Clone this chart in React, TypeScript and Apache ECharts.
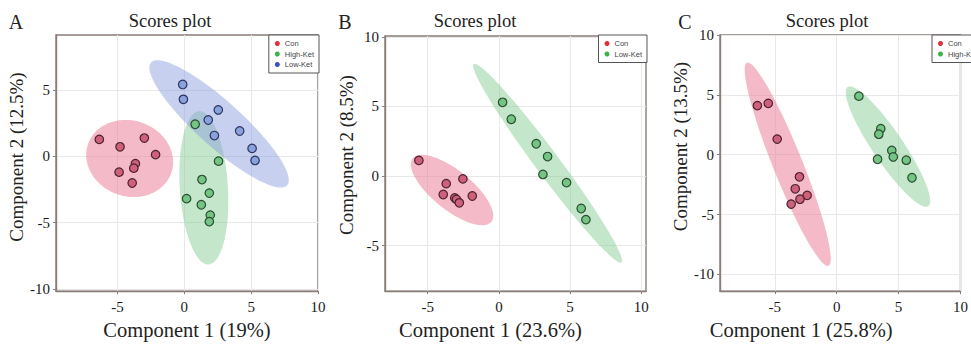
import { useEffect, useRef } from 'react';
import * as echarts from 'echarts';

// ---------- data ----------
// Panel A
const conA = [[-6.36, 1.27], [-4.81, 0.71], [-2.99, 1.37], [-2.15, 0.12], [-3.66, -0.56], [-3.78, -0.9], [-4.88, -1.2], [-3.9, -2.02]];
const highA = [[0.81, 2.41], [2.56, -0.37], [1.32, -1.76], [1.87, -2.78], [0.17, -3.2], [1.27, -3.66], [1.94, -4.44], [1.87, -4.93]];
const lowA = [[-0.12, 5.41], [-0.07, 4.29], [2.54, 3.49], [1.79, 2.73], [2.25, 1.56], [4.14, 1.9], [5.07, 0.59], [5.29, -0.32]];
// Panel B
const conB = [[-5.62, 1.12], [-3.7, -0.55], [-2.53, -0.21], [-3.91, -1.33], [-3.1, -1.58], [-2.98, -1.68], [-2.78, -1.93], [-1.87, -1.44]];
const lowB = [[0.26, 5.3], [0.87, 4.08], [2.62, 2.32], [3.42, 1.4], [3.09, 0.11], [4.75, -0.48], [5.78, -2.34], [6.11, -3.14]];
// Panel C
const conC = [[-6.41, 4.1], [-5.53, 4.29], [-4.81, 1.3], [-3.01, -1.85], [-3.35, -2.85], [-2.39, -3.4], [-2.97, -3.72], [-3.68, -4.13]];
const highC = [[1.79, 4.89], [3.56, 2.17], [3.4, 1.71], [3.3, -0.38], [4.45, 0.35], [4.57, -0.19], [5.62, -0.46], [6.08, -1.93]];

// confidence ellipses: [centerX, centerY, semiMajor, semiMinor, angleDeg]
const ellConA = [-4.09, -0.17, 3.3, 2.85, -20];
const ellHighA = [1.46, -2.38, 5.79, 1.8, 93.5];
const ellLowA = [2.6, 2.44, 6.88, 1.7, -42.3];
const ellConB = [-3.29, -1.01, 3.58, 1.4, -39.8];
const ellLowB = [3.42, 0.92, 8.82, 0.85, -54];
const ellConC = [-3.96, -0.8, 9.1, 1.2, -68.8];
const ellHighC = [4.14, 0.67, 5.95, 1.25, -56.9];

// tick labels
const xTicksA = [-5, 0, 5, 10];
const yTicksA = [-10, -5, 0, 5];
const xTicksB = [-5, 0, 5, 10];
const yTicksB = [-5, 0, 5, 10];
const xTicksC = [-5, 0, 5, 10];
const yTicksC = [-10, -5, 0, 5, 10];

const panelLetters = ['A', 'B', 'C'];
const titleText = 'Scores plot';
const xNames = ['Component 1 (19%)', 'Component 1 (23.6%)', 'Component 1 (25.8%)'];
const yNames = ['Component 2 (12.5%)', 'Component 2 (8.5%)', 'Component 2 (13.5%)'];

// ---------- styles ----------
const SERIF = '"Liberation Serif", "Times New Roman", serif';
const SANS = '"Liberation Sans", Arial, sans-serif';
const FRAME = '#8a7d77';
const RED = { fill: '#cf6079', border: '#4a2230', ell: 'rgba(236,118,146,0.5)', dot: '#e0303a' };
const GREEN = { fill: '#74c484', border: '#2a4c30', ell: 'rgba(130,205,145,0.47)', dot: '#3cb44a' };
const BLUE = { fill: '#8aa2dc', border: '#2a3460', ell: 'rgba(135,155,220,0.47)', dot: '#3a4fc0' };

function ellipseSeries(params: number[], idx: number, color: string) {
  return {
    type: 'custom',
    xAxisIndex: idx,
    yAxisIndex: idx,
    silent: true,
    clip: true,
    z: 1,
    data: [params],
    encode: { x: 0, y: 1 },
    renderItem: (_p: any, api: any) => {
      const cx = api.value(0);
      const cy = api.value(1);
      const a = api.value(2);
      const b = api.value(3);
      const ang = (api.value(4) * Math.PI) / 180;
      const pts: number[][] = [];
      for (let i = 0; i < 120; i++) {
        const t = (i / 120) * Math.PI * 2;
        const x = cx + a * Math.cos(t) * Math.cos(ang) - b * Math.sin(t) * Math.sin(ang);
        const y = cy + a * Math.cos(t) * Math.sin(ang) + b * Math.sin(t) * Math.cos(ang);
        pts.push(api.coord([x, y]));
      }
      return { type: 'polygon', shape: { points: pts }, style: { fill: color } };
    },
  };
}

function scatterSeries(name: string, data: number[][], idx: number, c: { fill: string; border: string }) {
  return {
    type: 'scatter',
    name,
    xAxisIndex: idx,
    yAxisIndex: idx,
    data,
    z: 3,
    symbol: 'circle',
    symbolSize: 8.5,
    itemStyle: { color: c.fill, borderColor: c.border, borderWidth: 1.2, opacity: 1 },
  };
}

function axis(
  gridIndex: number,
  min: number,
  max: number,
  ticks: number[],
  name: string,
  nameGap: number,
  fontSize: number,
  padding: number[],
  labelMargin: number
) {
  return {
    type: 'value',
    gridIndex,
    min,
    max,
    name,
    nameLocation: 'middle',
    nameGap,
    nameTextStyle: { fontFamily: SERIF, fontSize, color: '#222', padding },
    axisLine: { show: true, onZero: false, lineStyle: { color: FRAME, width: 1.4 } },
    axisTick: { show: true, length: 3, customValues: ticks, lineStyle: { color: FRAME, width: 1 } },
    axisLabel: { customValues: ticks, fontFamily: SERIF, fontSize: 15, color: '#1a1a1a', margin: labelMargin },
    splitLine: { show: true, lineStyle: { color: '#e8e8e8', width: 1 } },
  };
}

function legend(names: string[], colors: string[], pos: any) {
  return {
    ...pos,
    top: 35,
    orient: 'vertical',
    selectedMode: false,
    icon: 'circle',
    itemWidth: 5,
    itemHeight: 5,
    itemGap: 1.5,
    padding: [4, 5, 4, 6],
    backgroundColor: '#ffffff',
    borderColor: '#555555',
    borderWidth: 1,
    borderRadius: 0,
    textStyle: { fontFamily: SANS, fontSize: 7.5, color: '#444', lineHeight: 9 },
    data: names.map((n, i) => ({ name: n, itemStyle: { color: colors[i], borderWidth: 0 } })),
  };
}

export default function App() {
  const ref = useRef<HTMLDivElement>(null);

  useEffect(() => {
    if (!ref.current) return;
    const chart = echarts.init(ref.current, undefined, { renderer: 'svg' });

    const titleStyle = { font: `18.5px ${SERIF}`, fill: '#222', textAlign: 'center', textVerticalAlign: 'middle' };
    const letterStyle = { font: `20px ${SERIF}`, fill: '#222', textAlign: 'center', textVerticalAlign: 'middle' };

    chart.setOption({
      animation: false,
      backgroundColor: '#ffffff',
      grid: [
        { left: 56, top: 35, width: 262, height: 264, show: true, borderColor: FRAME, borderWidth: 1.4 },
        { left: 385, top: 36, width: 261, height: 263, show: true, borderColor: FRAME, borderWidth: 1.4 },
        { left: 720, top: 35, width: 272, height: 263, show: true, borderColor: FRAME, borderWidth: 1.4 },
      ],
      xAxis: [
        axis(0, -9.6, 10, xTicksA, xNames[0], 27, 20.5, [0, 0, 0, 0], 8),
        axis(1, -8.0, 10.33, xTicksB, xNames[1], 27, 20.5, [0, 50, 0, 0], 8),
        axis(2, -9.43, 10, xTicksC, xNames[2], 27, 20.5, [0, 78, 0, 0], 8),
      ],
      yAxis: [
        axis(0, -10.17, 9.14, yTicksA, yNames[0], 28, 19, [0, 0, 0, 12], 6),
        axis(1, -8.28, 10.07, yTicksB, yNames[1], 29, 19, [0, 0, 0, 17], 6),
        axis(2, -11.4, 10.0, yTicksC, yNames[2], 27, 19, [0, 0, 0, 33], 6),
      ],
      legend: [
        legend(['Con', 'High-Ket', 'Low-Ket'], [RED.dot, GREEN.dot, BLUE.dot], { right: 971 - 319 }),
        legend(['Con', 'Low-Ket'], [RED.dot, GREEN.dot], { right: 971 - 647 }),
        legend(['Con', 'High-Ket'], [RED.dot, GREEN.dot], { left: 932 }),
      ],
      graphic: [
        { type: 'text', x: 16, y: 22, style: { text: panelLetters[0], ...letterStyle } },
        { type: 'text', x: 170, y: 21, style: { text: titleText, ...titleStyle } },
        { type: 'text', x: 345, y: 22, style: { text: panelLetters[1], ...letterStyle } },
        { type: 'text', x: 475, y: 21, style: { text: titleText, ...titleStyle } },
        { type: 'text', x: 685, y: 22, style: { text: panelLetters[2], ...letterStyle } },
        { type: 'text', x: 827, y: 21, style: { text: titleText, ...titleStyle } },
      ],
      series: [
        ellipseSeries(ellConA, 0, RED.ell),
        ellipseSeries(ellHighA, 0, GREEN.ell),
        ellipseSeries(ellLowA, 0, BLUE.ell),
        ellipseSeries(ellConB, 1, RED.ell),
        ellipseSeries(ellLowB, 1, GREEN.ell),
        ellipseSeries(ellConC, 2, RED.ell),
        ellipseSeries(ellHighC, 2, GREEN.ell),
        scatterSeries('Con', conA, 0, RED),
        scatterSeries('High-Ket', highA, 0, GREEN),
        scatterSeries('Low-Ket', lowA, 0, BLUE),
        scatterSeries('Con', conB, 1, RED),
        scatterSeries('Low-Ket', lowB, 1, GREEN),
        scatterSeries('Con', conC, 2, RED),
        scatterSeries('High-Ket', highC, 2, GREEN),
      ],
    });

    return () => chart.dispose();
  }, []);

  return (
    <div style={{ position: 'absolute', left: 0, top: 0, width: 971, height: 345, overflow: 'hidden', background: '#fff' }}>
      <div ref={ref} style={{ width: 971, height: 345 }} />
    </div>
  );
}
